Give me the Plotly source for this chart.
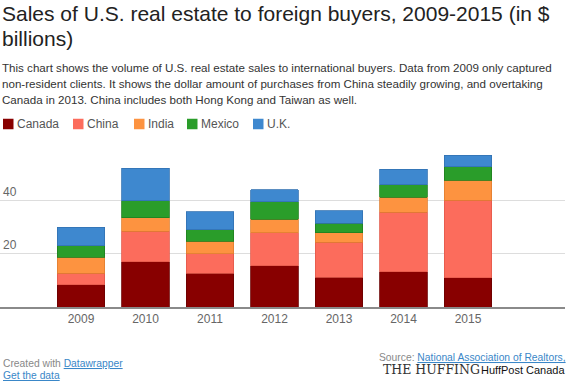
import plotly.graph_objects as go

# ---- data (US$ billions) ----
years = ["2009", "2010", "2011", "2012", "2013", "2014", "2015"]
canada = [8.4, 16.9, 12.6, 15.5, 11.25, 13.25, 10.9]
china = [4.35, 11.5, 7.4, 12.4, 13.0, 22.25, 29.1]
india = [6.0, 5.0, 4.75, 5.1, 3.65, 5.75, 7.6]
mexico = [4.15, 6.5, 4.25, 6.5, 3.6, 4.65, 5.0]
uk = [7.1, 12.2, 6.75, 4.4, 4.6, 5.85, 4.3]

series_names = ["Canada", "China", "India", "Mexico", "U.K."]
series_values = [canada, china, india, mexico, uk]
fill_colors = ["#880000", "#fc6c5c", "#fd9340", "#2a9d2a", "#3e88cf"]
line_colors = ["#6a0000", "#e25a4b", "#e07e30", "#1f7f1f", "#3272b2"]

ytick_vals = [20, 40]
ytick_text = ["20", "40"]

# ---- layout constants (pixels) ----
W, H = 570, 381
ML, MR, MT, MB = 0, 5, 147, 74
PW = W - ML - MR
PH = H - MT - MB
Y0 = H - MB
legend_square_x = [3, 73, 134, 187, 253]
legend_y = 124


def px(x):
    return (x - ML) / PW


def py(y):
    return (Y0 - y) / PH


fig = go.Figure()
for name, vals, fc, lc in zip(series_names, series_values, fill_colors, line_colors):
    fig.add_trace(go.Bar(
        x=years, y=vals, name=name, showlegend=False,
        marker=dict(color=fc, line=dict(color=lc, width=0.8)),
    ))

FONT = "Liberation Sans, Arial, Helvetica, sans-serif"

annotations = []
shapes = []


def add_text(text, x, y, size, color, xanchor="left", family=FONT):
    annotations.append(dict(
        text=text, xref="paper", yref="paper", x=px(x), y=py(y),
        xanchor=xanchor, yanchor="middle", showarrow=False,
        font=dict(family=family, size=size, color=color), borderpad=0,
    ))


add_text("Sales of U.S. real estate to foreign buyers, 2009-2015 (in $", 1, 13, 21, "#222222")
add_text("billions)", 1, 38, 21, "#222222")
add_text("This chart shows the volume of U.S. real estate sales to international buyers. Data from 2009 only captured",
         1, 67, 11.6, "#333333")
add_text("non-resident clients. It shows the dollar amount of purchases from China steadily growing, and overtaking",
         1, 83, 11.6, "#333333")
add_text("Canada in 2013. China includes both Hong Kong and Taiwan as well.", 1, 99, 11.6, "#333333")

# legend (squares + labels)
for name, fc, sx in zip(series_names, fill_colors, legend_square_x):
    shapes.append(dict(
        type="rect", xref="paper", yref="paper",
        x0=px(sx), x1=px(sx + 10.5), y0=py(legend_y + 5.25), y1=py(legend_y - 5.25),
        fillcolor=fc, line=dict(width=0),
    ))
    add_text(name, sx + 13, legend_y, 12, "#555555")

link = "color:#3a87c8;text-decoration:underline"
add_text("Created with <span style='%s'>Datawrapper</span>" % link, 2, 363, 10.3, "#888888")
add_text("<span style='%s'>Get the data</span>" % link, 2, 375, 10.3, "#888888")
add_text("Source: <span style='%s'>National Association of Realtors,</span>" % link, 567, 357, 10.3, "#888888",
         xanchor="right")
add_text("THE HUFFING", 382, 369, 12.5, "#333333", family="DejaVu Serif, Liberation Serif, serif")
add_text("HuffPost Canada", 566, 370, 11, "#111111", xanchor="right")

fig.update_layout(
    width=W, height=H,
    margin=dict(l=ML, r=MR, t=MT, b=MB, pad=0),
    paper_bgcolor="white", plot_bgcolor="white",
    barmode="stack", bargap=0.26,
    showlegend=False,
    xaxis=dict(
        type="category", range=[-1.256, 7.504], showgrid=False,
        showline=True, linecolor="#8a8a8a", linewidth=1.5, ticks="",
        tickfont=dict(family=FONT, size=12, color="#666666"), fixedrange=True,
    ),
    yaxis=dict(
        range=[0, 60], tickvals=ytick_vals, ticktext=ytick_text,
        showgrid=True, gridcolor="#dddddd", gridwidth=1, zeroline=False,
        ticklabelposition="inside top", ticks="",
        tickfont=dict(family=FONT, size=12, color="#666666"), fixedrange=True,
    ),
    annotations=annotations,
    shapes=shapes,
)

fig.write_html(
    "out.html",
    config={"displayModeBar": False},
    post_script="document.body.style.margin='0';document.body.style.padding='0';"
                "document.body.style.overflow='hidden';",
)
